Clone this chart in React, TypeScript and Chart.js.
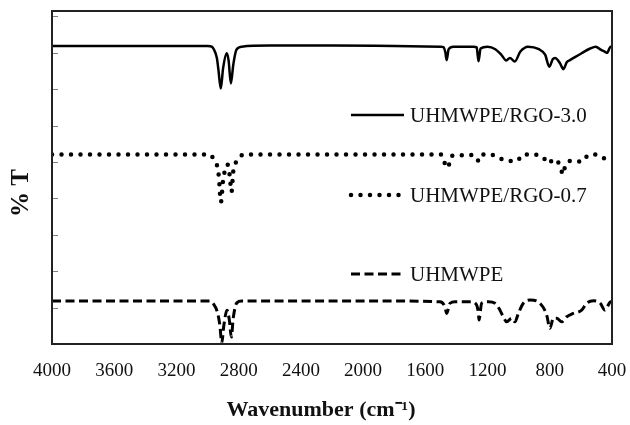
import React, { useEffect, useRef } from "react";
import { Chart, registerables } from "chart.js";

Chart.register(...registerables);

// ---------- data ----------
const xTickValues = [4000, 3600, 3200, 2800, 2400, 2000, 1600, 1200, 800, 400];

const seriesLabels = ["UHMWPE/RGO-3.0", "UHMWPE/RGO-0.7", "UHMWPE"];

// UHMWPE/RGO-3.0 (solid)
const rgo30Wavenumber = [
  4000, 3400, 3000, 2973, 2960, 2940, 2930, 2915, 2900, 2877, 2865, 2850, 2835, 2815, 2780,
  2600, 2200, 1800, 1500, 1484, 1472, 1463, 1450, 1420, 1290, 1270, 1258, 1245, 1200, 1150,
  1110, 1080, 1056, 1025, 990, 940, 870, 830, 803, 780, 766, 735, 713, 690, 670, 595, 540,
  505, 470, 445, 432, 409, 400,
];
const rgo30Transmittance = [
  8.19, 8.19, 8.19, 8.17, 8.1, 7.86, 7.53, 7.02, 7.58, 7.99, 7.8, 7.16, 7.66, 8.08, 8.17,
  8.2, 8.2, 8.19, 8.17, 8.16, 8.03, 7.8, 8.1, 8.17, 8.17, 8.15, 7.77, 8.12, 8.17, 8.1,
  7.94, 7.79, 7.86, 7.76, 8.03, 8.17, 8.1, 7.95, 7.62, 7.83, 7.86, 7.72, 7.55, 7.75, 7.8, 7.99, 8.12,
  8.17, 8.08, 8.03, 8.0, 8.17, 8.17,
];

// UHMWPE/RGO-0.7 (dotted)
const rgo07Wavenumber = [
  4000, 3400, 2990, 2963, 2940, 2928, 2914, 2900, 2872, 2858, 2846, 2835, 2820, 2795, 2760,
  2200, 1800, 1500, 1478, 1463, 1445, 1430, 1285, 1259, 1240, 1185, 1120, 1067, 1013, 970,
  908, 842, 809, 773, 740, 713, 700, 649, 595, 552, 510, 445, 410, 400,
];
const rgo07Transmittance = [
  5.21, 5.21, 5.21, 5.1, 4.92, 4.62, 3.9, 4.5, 4.93, 4.64, 4.18, 4.73, 4.97, 5.14, 5.21,
  5.21, 5.21, 5.21, 5.0, 4.84, 4.96, 5.17, 5.19, 5.04, 5.21, 5.21, 5.1, 5.03, 5.03, 5.21,
  5.21, 5.12, 4.96, 5.08, 4.95, 4.66, 4.92, 5.04, 5.01, 5.19, 5.21, 5.1, 5.21, 5.21,
];

// UHMWPE (dashed)
const uhmwpeWavenumber = [
  4000, 3400, 2985, 2965, 2935, 2920, 2909, 2895, 2875, 2860, 2847, 2835, 2812, 2780,
  2200, 1800, 1506, 1474, 1463, 1441, 1410, 1302, 1270, 1259, 1255, 1238, 1195, 1152,
  1120, 1099, 1077, 1045, 1024, 1002, 970, 927, 863, 820, 799, 777, 756, 723, 691, 650,
  595, 563, 520, 477, 445, 424, 410, 400,
];
const uhmwpeTransmittance = [
  1.18, 1.18, 1.18, 1.12, 0.85, 0.48, 0.02, 0.52, 0.93, 0.66, 0.19, 0.71, 1.13, 1.18,
  1.18, 1.18, 1.16, 1.02, 0.84, 1.12, 1.16, 1.16, 1.07, 0.85, 0.66, 1.12, 1.16, 1.12,
  0.93, 0.75, 0.61, 0.71, 0.61, 0.84, 1.12, 1.21, 1.12, 0.8, 0.43, 0.71, 0.71, 0.61, 0.75, 0.84,
  0.93, 1.12, 1.19, 1.13, 0.93, 1.07, 1.16, 1.16,
];

const SERIF = "'Liberation Serif', 'Times New Roman', serif";

const toPoints = (xs: number[], ys: number[]) => xs.map((x, i) => ({ x, y: ys[i] }));

const lineStyles = [
  { dash: [] as number[], width: 2.5, cap: "butt" as CanvasLineCap },
  { dash: [0, 9.5], width: 4.5, cap: "round" as CanvasLineCap },
  { dash: [9, 4.5], width: 3, cap: "butt" as CanvasLineCap },
];

const NB = "\u00A0";

const framePlugin = {
  id: "frameAndLegend",
  afterDatasetsDraw(chart: any) {
    const { ctx, chartArea: a, scales } = chart;
    const y = scales.y;
    ctx.save();
    // inward y tick marks
    ctx.strokeStyle = "#808080";
    ctx.lineWidth = 1;
    ctx.setLineDash([]);
    y.ticks.forEach((t: any) => {
      const py = Math.round(y.getPixelForValue(t.value)) + 0.5;
      ctx.beginPath();
      ctx.moveTo(a.left, py);
      ctx.lineTo(a.left + 6, py);
      ctx.stroke();
    });
    // frame
    ctx.strokeStyle = "#222";
    ctx.lineWidth = 2;
    ctx.strokeRect(a.left, a.top, a.right - a.left, a.bottom - a.top);

    // in-plot legend
    const rowsY = [a.top + 104, a.top + 184, a.top + 263];
    const x0 = a.left + 299;
    const x1 = a.left + 352;
    ctx.font = `21px ${SERIF}`;
    ctx.textBaseline = "middle";
    ctx.textAlign = "left";
    seriesLabels.forEach((label, i) => {
      const st = lineStyles[i];
      ctx.strokeStyle = "#000";
      ctx.lineWidth = st.width;
      ctx.lineCap = st.cap;
      ctx.setLineDash(st.dash);
      ctx.beginPath();
      ctx.moveTo(x0, rowsY[i]);
      ctx.lineTo(x1, rowsY[i]);
      ctx.stroke();
      ctx.setLineDash([]);
      ctx.fillStyle = "#111";
      ctx.fillText(label, x1 + 6, rowsY[i] + 1);
    });
    ctx.restore();
  },
};

export default function App() {
  const canvasRef = useRef<HTMLCanvasElement | null>(null);

  useEffect(() => {
    if (!canvasRef.current) return;
    const seriesData = [
      toPoints(rgo30Wavenumber, rgo30Transmittance),
      toPoints(rgo07Wavenumber, rgo07Transmittance),
      toPoints(uhmwpeWavenumber, uhmwpeTransmittance),
    ];
    const chart = new Chart(canvasRef.current, {
      type: "line",
      data: {
        datasets: seriesData.map((d, i) => ({
          label: seriesLabels[i],
          data: d,
          borderColor: "#000",
          borderWidth: lineStyles[i].width,
          borderDash: lineStyles[i].dash,
          borderCapStyle: lineStyles[i].cap,
          pointRadius: 0,
          fill: false,
          cubicInterpolationMode: "monotone",
        })),
      },
      options: {
        animation: false,
        responsive: false,
        maintainAspectRatio: false,
        layout: { padding: { top: 11, right: 18, left: 0, bottom: 0 } },
        plugins: {
          legend: { display: false },
          tooltip: { enabled: false },
        },
        scales: {
          x: {
            type: "linear",
            reverse: true,
            min: 400,
            max: 4000,
            afterBuildTicks: (scale: any) => {
              scale.ticks = xTickValues.map((v) => ({ value: v }));
            },
            afterFit: (scale: any) => {
              scale.height = 81;
              scale.paddingLeft = 0;
              scale.paddingRight = 0;
            },
            grid: { display: false, drawTicks: false },
            border: { display: false },
            ticks: {
              padding: 16,
              color: "#111",
              font: { family: SERIF, size: 19 },
              maxRotation: 0,
              autoSkip: false,
              callback: (v: any) => String(v),
            },
            title: {
              display: true,
              text: "Wavenumber (cm⁻¹)" + NB.repeat(4),
              color: "#111",
              font: { family: SERIF, size: 22, weight: "bold", lineHeight: 1.2 },
              padding: { top: 0, bottom: 1 },
            },
          },
          y: {
            type: "linear",
            min: 0,
            max: 9.15,
            afterBuildTicks: (scale: any) => {
              scale.ticks = [0, 1, 2, 3, 4, 5, 6, 7, 8, 9].map((v) => ({ value: v }));
            },
            afterFit: (scale: any) => {
              scale.width = 52;
              scale.paddingTop = 0;
              scale.paddingBottom = 0;
            },
            grid: { display: false, drawTicks: false },
            border: { display: false },
            ticks: { display: false },
            title: {
              display: true,
              text: "% T" + NB.repeat(5),
              color: "#111",
              font: { family: SERIF, size: 25, weight: "bold", lineHeight: 1.2 },
              padding: { top: 7, bottom: 0 },
            },
          },
        },
      },
      plugins: [framePlugin],
    });
    return () => chart.destroy();
  }, []);

  return (
    <div style={{ position: "fixed", left: 0, top: 0, width: 630, height: 425, background: "#fff" }}>
      <canvas ref={canvasRef} width={630} height={425} />
    </div>
  );
}
